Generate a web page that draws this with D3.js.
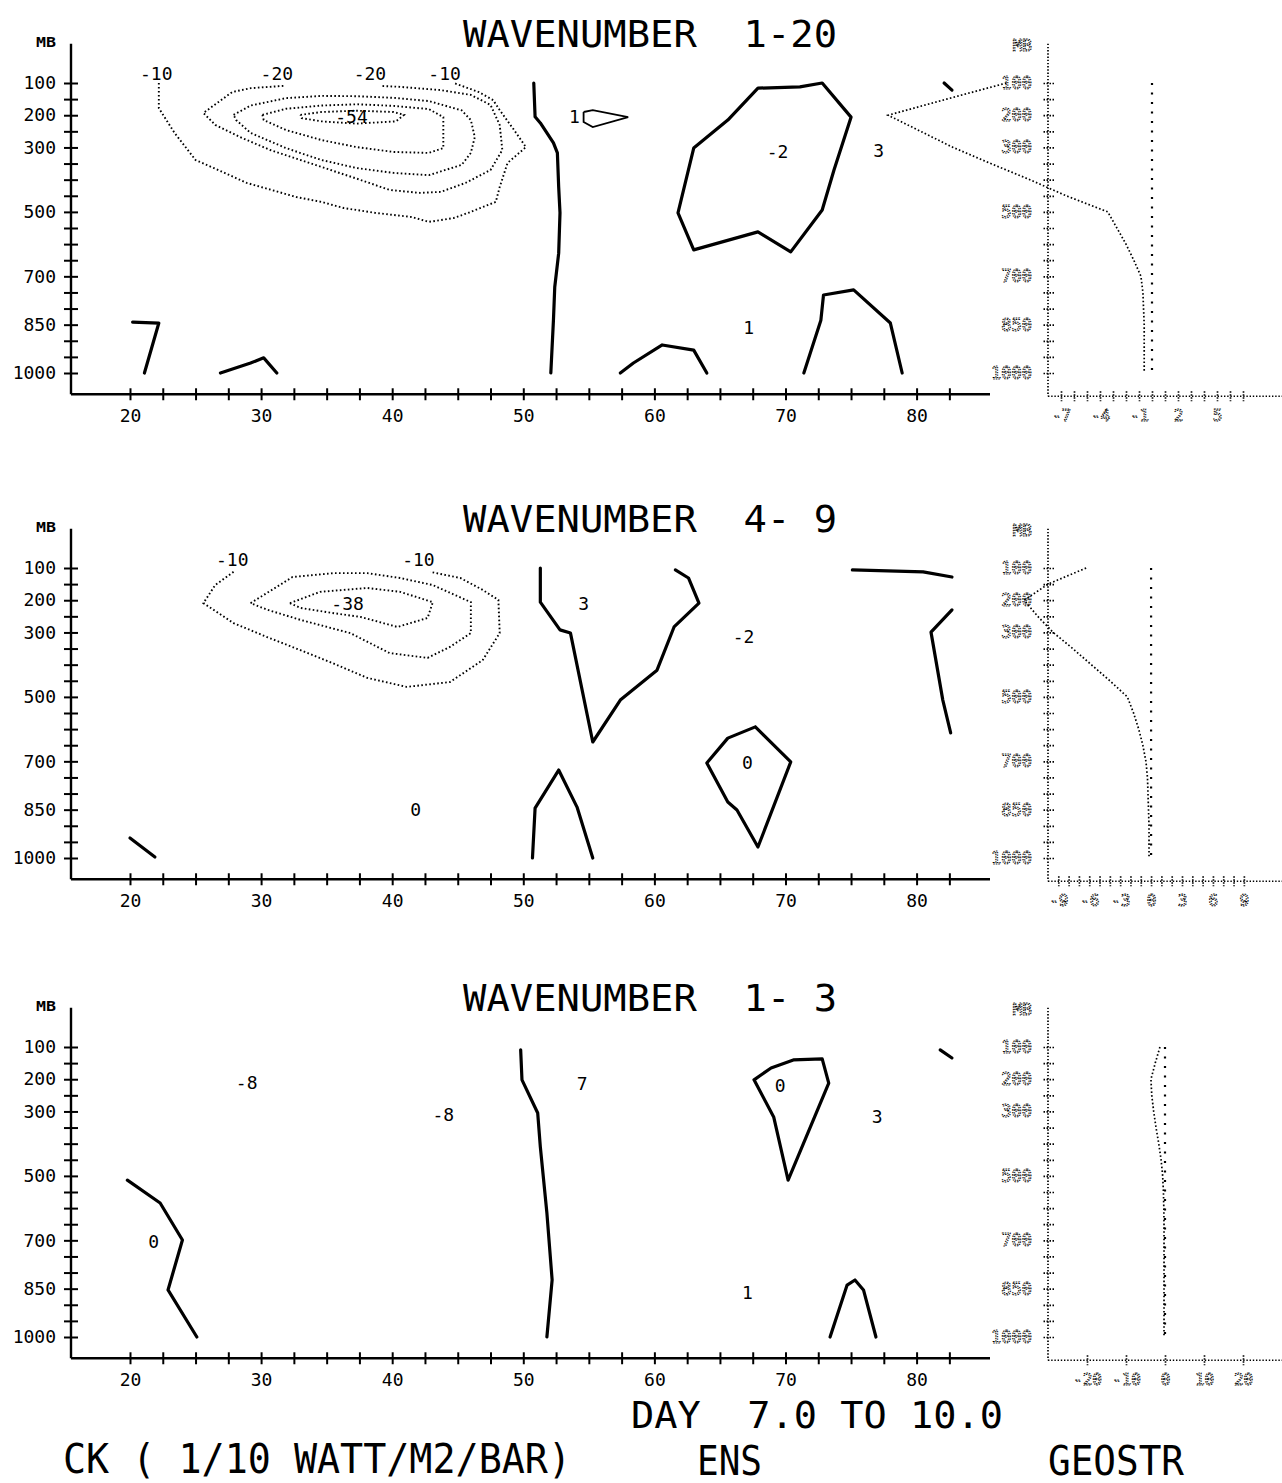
<!DOCTYPE html>
<html><head><meta charset="utf-8">
<script src="https://cdn.jsdelivr.net/npm/d3@7"></script>
<style>
body{margin:0;background:#fff}
svg{display:block}
text{font-family:"DejaVu Sans Mono",monospace;fill:#000}
.pre{white-space:pre}
.dotted{fill:none;stroke:#000;stroke-width:1.05;stroke-dasharray:1.4 1.1}
</style>
</head><body>
<svg id="c" width="1282" height="1483"></svg>
<script>
// ---------------- DATA ----------------
const pressureLevels = d3.range(100, 1001, 50);          // mb, tick every 50
const pressureLabels = [100, 200, 300, 500, 700, 850, 1000];
const latTicks = d3.range(20, 82.6, 2.5);
const latLabels = [20, 30, 40, 50, 60, 70, 80];
const panelTitles = ["WAVENUMBER  1-20", "WAVENUMBER  4- 9", "WAVENUMBER  1- 3"];

// Panel 1 (wavenumber 1-20) contours, points [latitude, pressure mb]
const p1Minus10 = [[22.2,100],[22.2,178],[23.4,255],[25.0,339],[26.4,364],[28.9,410],[30.8,432],[32.7,454],[34.6,469],[36.3,488],[38.7,503],[41.5,516],[42.8,531],[44.7,519],[45.8,503],[47.9,469],[48.2,423],[48.8,348],[50.2,299],[49.3,246],[48.2,184],[47.7,153],[46.6,128],[44.7,100]];
const p1Minus20 = [[31.7,109],[29.2,116],[27.8,128],[25.6,193],[26.5,230],[28.4,268],[30.7,308],[33.0,339],[35.3,370],[37.6,401],[39.8,432],[42.1,441],[43.7,438],[45.6,410],[47.5,370],[48.4,308],[48.2,230],[47.5,168],[46.0,137],[43.7,122],[40.6,112],[39.1,109]];
const p1Minus30 = [[27.9,199],[29.2,170],[31.9,147],[34.6,140],[37.3,141],[40.1,146],[42.8,156],[45.3,185],[46.0,215],[46.3,268],[46.0,317],[45.3,354],[42.8,386],[40.1,379],[37.3,364],[34.6,339],[31.9,302],[29.2,255],[28.1,215],[27.9,199]];
const p1Minus40 = [[30.1,199],[31.9,180],[34.6,170],[37.3,166],[40.1,171],[42.8,181],[43.9,206],[43.9,302],[42.8,317],[40.1,314],[37.3,299],[34.6,277],[31.9,246],[30.2,215],[30.1,199]];
const p1Minus50 = [[33.0,199],[34.6,190],[37.3,186],[40.1,190],[40.9,199],[40.3,219],[37.3,226],[34.6,219],[33.1,209],[33.0,199]];
const p1LineA = [[50.8,100],[50.9,205],[51.3,224],[52.3,286],[52.6,317],[52.7,423],[52.8,503],[52.7,628],[52.4,733],[52.3,836],[52.1,1000]];
const p1Kite = [[54.6,190],[55.3,184],[58.0,206],[55.3,237],[54.6,221],[54.6,190]];
const p1Loop = [[67.9,116],[71.1,112],[72.8,100],[75.0,206],[73.7,370],[72.8,494],[70.4,624],[67.9,562],[63.0,618],[61.8,503],[63.0,302],[65.6,215],[67.9,116]];
const p1ArchA = [[57.4,1000],[58.4,969],[60.6,913],[63.0,929],[64.0,1000]];
const p1ArchB = [[71.4,1000],[72.7,836],[72.9,758],[75.2,742],[78.0,845],[78.9,1000]];
const p1ArchC = [[26.9,1000],[29.2,969],[30.2,953],[31.2,1000]];
const p1Seven = [[20.2,842],[22.2,845],[21.1,1000]];
const p1Dash = [[82.1,100],[82.7,122]];
const p1Labels = [["-10",22.0,69],["-20",31.2,69],["-20",38.3,69],["-10",44.0,69],["-54",36.9,205],["1",53.9,205],["-2",69.4,314],["3",77.1,308],["1",67.2,860]];

// Panel 2 (wavenumber 4-9)
const p2Minus10 = [[27.9,112],[26.5,153],[25.6,209],[27.9,271],[30.5,315],[33.0,355],[35.5,396],[38.1,441],[41.1,469],[44.4,454],[46.9,386],[48.2,302],[48.1,199],[46.9,168],[45.2,131],[42.9,112]];
const p2Minus20 = [[29.2,209],[32.4,128],[35.5,116],[38.1,116],[40.6,131],[43.1,153],[46.0,206],[46.0,302],[44.4,345],[42.7,379],[39.8,364],[36.8,302],[33.0,261],[30.5,230],[29.2,209]];
const p2Minus30 = [[32.2,209],[34.5,174],[38.1,162],[40.6,174],[43.1,206],[42.7,255],[40.4,283],[37.6,252],[35.0,237],[33.0,224],[32.2,209]];
const p2LineA = [[51.3,100],[51.3,206],[52.8,292],[53.6,302],[55.3,640],[57.4,510],[60.2,417],[61.5,283],[63.4,209],[62.6,131],[61.6,106]];
const p2LineB = [[75.1,106],[80.5,112],[82.7,128]];
const p2LineC = [[82.7,230],[81.1,299],[82.0,510],[82.6,612]];
const p2Kite = [[67.7,593],[70.4,702],[67.9,966],[66.3,851],[65.6,826],[64.0,705],[65.6,628],[67.7,593]];
const p2Arch = [[50.7,1000],[50.9,845],[52.7,727],[54.1,842],[55.3,1000]];
const p2Dash = [[20.0,938],[21.9,997]];
const p2Labels = [["-10",27.8,75],["-10",42.0,75],["-38",36.6,209],["3",54.6,209],["-2",66.8,314],["0",67.1,705],["0",41.8,851]];

// Panel 3 (wavenumber 1-3)
const p3LineA = [[19.8,513],[22.3,584],[24.0,699],[22.9,854],[25.1,1000]];
const p3LineB = [[49.8,109],[49.9,202],[51.1,305],[51.3,410],[51.8,615],[52.2,823],[51.8,1000]];
const p3Loop = [[67.6,202],[68.9,165],[70.6,140],[72.8,137],[73.3,212],[70.2,513],[69.1,317],[67.6,202]];
const p3Arch = [[73.4,1000],[74.7,839],[75.3,823],[75.95,854],[76.9,1000]];
const p3Dash = [[81.8,109],[82.7,134]];
const p3Labels = [["-8",28.9,209],["-8",43.9,311],["0",21.8,705],["7",54.5,212],["0",69.6,218],["3",77.0,317],["1",67.1,863]];

// Side profiles (GEOSTR), value at each pressure level 100..1000 step 50
const profile1 = [-11.2,-15.8,-20.3,-17.8,-15.3,-12.4,-9.4,-6.6,-3.4,-2.7,-2.0,-1.4,-0.85,-0.7,-0.65,-0.6,-0.6,-0.6,-0.6];
const profile2 = [-6.3,-10,-12.3,-11,-9.5,-7.6,-5.8,-4.0,-2.3,-1.7,-1.2,-0.8,-0.5,-0.35,-0.3,-0.25,-0.2,-0.2,-0.2];
const profile3 = [-1.3,-2.5,-3.6,-3.4,-2.9,-2.3,-1.6,-1.0,-0.6,-0.4,-0.3,-0.25,-0.25,-0.25,-0.25,-0.25,-0.25,-0.25,-0.25];
const side1Ticks = d3.range(-7, 7.1, 1), side1Labels = [-7,-4,-1,2,5];
const side2Ticks = d3.range(-9, 9.1, 1), side2Labels = [-9,-6,-3,0,3,6,9];
const side3Ticks = [-20,-10,0,10,20], side3Labels = [-20,-10,0,10,20];
const side1Domain = [-8, 10], side2Domain = [-10, 12.7], side3Domain = [-30, 30];

// ---------------- DRAW ----------------
const panels = [
  {top: 83, title: panelTitles[0],
   dotted: [p1Minus10, p1Minus20, p1Minus30, p1Minus40, p1Minus50],
   solid: [p1LineA, p1Loop, p1ArchA, p1ArchB, p1ArchC, p1Seven, p1Dash],
   thin: [p1Kite], labels: p1Labels,
   profile: profile1, sDom: side1Domain, sTicks: side1Ticks, sLabels: side1Labels},
  {top: 568, title: panelTitles[1],
   dotted: [p2Minus10, p2Minus20, p2Minus30],
   solid: [p2LineA, p2LineB, p2LineC, p2Kite, p2Arch, p2Dash],
   thin: [], labels: p2Labels,
   profile: profile2, sDom: side2Domain, sTicks: side2Ticks, sLabels: side2Labels},
  {top: 1047, title: panelTitles[2],
   dotted: [],
   solid: [p3LineA, p3LineB, p3Loop, p3Arch, p3Dash],
   thin: [], labels: p3Labels,
   profile: profile3, sDom: side3Domain, sTicks: side3Ticks, sLabels: side3Labels}
];

const svg = d3.select("#c");
const x = d3.scaleLinear().domain([15.5, 85.6]).range([71, 990]);
const y = d3.scaleLinear().domain([100, 1000]).range([0, 290]);
const pTop = -22, pBot = 1066;
const line = d3.line().x(d => x(d[0])).y(d => y(d[1]));

panels.forEach(P => {
  const g = svg.append("g").attr("transform", `translate(0,${P.top})`);

  // title
  g.append("text").attr("class", "pre").attr("x", 463).attr("y", -36)
    .attr("font-size", 38).attr("textLength", 374).attr("lengthAdjust", "spacingAndGlyphs")
    .text(P.title);

  // MB label
  g.append("text").attr("x", 46).attr("y", -36).attr("text-anchor", "middle")
    .attr("font-size", 14).attr("font-weight", "bold")
    .attr("textLength", 20).attr("lengthAdjust", "spacingAndGlyphs").text("MB");

  // main axes
  g.append("line").attr("x1", x(15.5)).attr("x2", x(15.5)).attr("y1", y(pTop)).attr("y2", y(pBot))
    .attr("stroke", "#000").attr("stroke-width", 2.4);
  g.append("line").attr("x1", x(15.5)).attr("x2", x(85.6)).attr("y1", y(pBot)).attr("y2", y(pBot))
    .attr("stroke", "#000").attr("stroke-width", 2.4);

  const ya = g.append("g").attr("transform", `translate(${x(15.5)},0)`)
    .call(d3.axisLeft(y).tickValues(pressureLevels).tickSize(7).tickPadding(8)
      .tickFormat(d => pressureLabels.includes(d) ? d : ""));
  ya.select(".domain").remove();
  ya.attr("font-family", "DejaVu Sans Mono").attr("font-size", 18);
  ya.selectAll(".tick line").attr("x1", 7).attr("stroke-width", 2);

  const xa = g.append("g").attr("transform", `translate(0,${y(pBot)})`)
    .call(d3.axisBottom(x).tickValues(latTicks).tickSize(6).tickPadding(9)
      .tickFormat(d => latLabels.includes(d) ? d : ""));
  xa.select(".domain").remove();
  xa.attr("font-family", "DejaVu Sans Mono").attr("font-size", 18);
  xa.selectAll(".tick line").attr("y1", -6).attr("stroke-width", 2);

  // contours
  g.selectAll(".dot").data(P.dotted).join("path").attr("class", "dot")
    .attr("d", line).attr("fill", "none").attr("stroke", "#000")
    .attr("stroke-width", 1.9).attr("stroke-dasharray", "1.6 2.4");
  g.selectAll(".sol").data(P.solid).join("path").attr("class", "sol")
    .attr("d", line).attr("fill", "none").attr("stroke", "#000")
    .attr("stroke-width", 3.2).attr("stroke-linejoin", "round").attr("stroke-linecap", "round");
  g.selectAll(".thin").data(P.thin).join("path").attr("class", "thin")
    .attr("d", line).attr("fill", "none").attr("stroke", "#000").attr("stroke-width", 1.8);

  g.selectAll(".clab").data(P.labels).join("text").attr("class", "clab")
    .attr("x", d => x(d[1])).attr("y", d => y(d[2])).attr("dy", "0.36em")
    .attr("text-anchor", "middle").attr("font-size", 18).text(d => d[0]);

  // side profile panel
  const sx = d3.scaleLinear().domain(P.sDom).range([1048, 1282]);
  const dash = "1.4 1.8";
  g.append("line").attr("x1", sx(P.sDom[0])).attr("x2", sx(P.sDom[0])).attr("y1", y(pTop)).attr("y2", y(pBot) + 2)
    .attr("stroke", "#000").attr("stroke-width", 1.7).attr("stroke-dasharray", dash);
  g.append("line").attr("x1", sx(P.sDom[0])).attr("x2", sx(P.sDom[1])).attr("y1", y(pBot) + 2).attr("y2", y(pBot) + 2)
    .attr("stroke", "#000").attr("stroke-width", 1.7).attr("stroke-dasharray", dash);

  const sya = g.append("g").attr("transform", `translate(${sx(P.sDom[0])},0)`)
    .call(d3.axisLeft(y).tickValues(pressureLevels).tickSize(6).tickPadding(10)
      .tickFormat(d => pressureLabels.includes(d) ? d : ""));
  sya.select(".domain").remove();
  sya.attr("font-family", "DejaVu Sans Mono").attr("font-size", 17);
  sya.selectAll(".tick line").attr("x1", 6).attr("stroke-width", 1.7).attr("stroke-dasharray", "1.5 1.5");
  sya.selectAll(".tick text").attr("class", "dotted");

  const sxa = g.append("g").attr("transform", `translate(0,${y(pBot) + 2})`)
    .call(d3.axisBottom(sx).tickValues(P.sTicks).tickSize(5).tickPadding(8)
      .tickFormat(d => P.sLabels.includes(d) ? d : ""));
  sxa.select(".domain").remove();
  sxa.attr("font-family", "DejaVu Sans Mono").attr("font-size", 16);
  sxa.selectAll(".tick line").attr("y1", -5).attr("stroke-width", 1.7).attr("stroke-dasharray", "1.5 1.5");
  sxa.selectAll(".tick text").attr("class", "dotted");

  g.append("text").attr("class", "dotted").attr("x", sx(P.sDom[0]) - 16).attr("y", -38)
    .attr("text-anchor", "end").attr("dy", "0.36em").attr("font-size", 16).text("MB");

  // zero reference line
  g.append("line").attr("x1", sx(0)).attr("x2", sx(0)).attr("y1", y(100)).attr("y2", y(1000))
    .attr("stroke", "#000").attr("stroke-width", 2.2).attr("stroke-dasharray", "2 7.5");

  // profile
  const prof = pressureLevels.map((p, k) => [p, P.profile[k]]);
  g.append("path").datum(prof)
    .attr("d", d3.line().x(d => sx(d[1])).y(d => y(d[0])))
    .attr("fill", "none").attr("stroke", "#000").attr("stroke-width", 1.7).attr("stroke-dasharray", "1.6 2.2");
});

// footer texts
svg.append("text").attr("class", "pre").attr("x", 631).attr("y", 1428).attr("font-size", 38)
  .attr("textLength", 372).attr("lengthAdjust", "spacingAndGlyphs").text("DAY  7.0 TO 10.0");
svg.append("text").attr("class", "pre").attr("x", 63).attr("y", 1473).attr("font-size", 40)
  .attr("textLength", 508).attr("lengthAdjust", "spacingAndGlyphs").text("CK ( 1/10 WATT/M2/BAR)");
svg.append("text").attr("x", 697).attr("y", 1475).attr("font-size", 40)
  .attr("textLength", 65).attr("lengthAdjust", "spacingAndGlyphs").text("ENS");
svg.append("text").attr("x", 1048).attr("y", 1475).attr("font-size", 40)
  .attr("textLength", 136).attr("lengthAdjust", "spacingAndGlyphs").text("GEOSTR");
</script>
</body></html>
